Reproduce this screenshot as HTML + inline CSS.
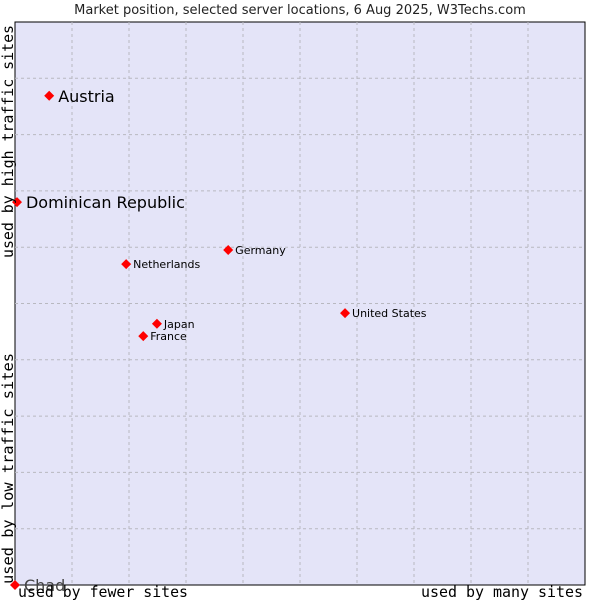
<!DOCTYPE html>
<html><head><meta charset="utf-8"><style>
body{margin:0;background:#fff;width:600px;height:600px;overflow:hidden}
svg text{font-family:"DejaVu Sans","Liberation Sans",sans-serif}
.mono{font-family:'DejaVu Sans Mono','Liberation Mono',monospace !important}
</style></head><body>
<svg width="600" height="600">
<text x="300" y="14" text-anchor="middle" font-size="13" fill="#222">Market position, selected server locations, 6 Aug 2025, W3Techs.com</text>
<rect x="15" y="22" width="570" height="563" fill="#e4e4f8" stroke="#000" stroke-width="1"/>
<g id="grid"></g>
<g id="pts"></g>
<text class="mono" transform="translate(13,258) rotate(-90)" font-size="15" textLength="233" lengthAdjust="spacingAndGlyphs" fill="#000">used by high traffic sites</text>
<text class="mono" transform="translate(13,584) rotate(-90)" font-size="15" textLength="231" lengthAdjust="spacingAndGlyphs" fill="#000">used by low traffic sites</text>
<text class="mono" x="18" y="597" font-size="15" textLength="170" lengthAdjust="spacingAndGlyphs" fill="#000">used by fewer sites</text>
<text class="mono" x="421" y="597" font-size="15" textLength="162" lengthAdjust="spacingAndGlyphs" fill="#000">used by many sites</text>
</svg>
<script>
const names=["Austria","Dominican Republic","Netherlands","Germany","United States","Japan","France","Chad"];
const xVals=[6,0.35,19.5,37.4,57.9,24.9,22.5,0];
const yVals=[86.9,68,57,59.5,48.3,46.4,44.2,0];
const big=[true,true,false,false,false,false,false,true];
const L=15,R=585,T=22,B=585;
const sx=v=>L+v/100*(R-L), sy=v=>B-v/100*(B-T);
const NS="http://www.w3.org/2000/svg";
const grid=document.getElementById('grid');
for(let i=1;i<10;i++){
 const v=document.createElementNS(NS,'line');
 
 
 v.setAttribute('x1',sx(i*10));v.setAttribute('x2',sx(i*10));v.setAttribute('y1',T);v.setAttribute('y2',B);
 v.setAttribute('stroke','#b8b8c0');v.setAttribute('stroke-dasharray','3,3');grid.appendChild(v);
 const h=document.createElementNS(NS,'line');
 
 
 h.setAttribute('y1',sy(i*10));h.setAttribute('y2',sy(i*10));h.setAttribute('x1',L);h.setAttribute('x2',R);
 h.setAttribute('stroke','#b8b8c0');h.setAttribute('stroke-dasharray','3,3');grid.appendChild(h);
}
const pts=document.getElementById('pts');
names.forEach((n,i)=>{
 const x=sx(xVals[i]),y=sy(yVals[i]);
 const d=document.createElementNS(NS,'path');
 
 
 d.setAttribute('d',`M${x-5},${y}L${x},${y-5}L${x+5},${y}L${x},${y+5}Z`);
 d.setAttribute('fill','#f00');pts.appendChild(d);
 const t=document.createElementNS(NS,'text');
 
 
 t.setAttribute('x',x+(big[i]?9:7));t.setAttribute('y',y+(big[i]?6:4));
 t.setAttribute('font-size',big[i]?16:11);
 t.setAttribute('fill',n==="Chad"?'#444':'#000');
 t.textContent=n;pts.appendChild(t);
});
</script>
</body></html>
